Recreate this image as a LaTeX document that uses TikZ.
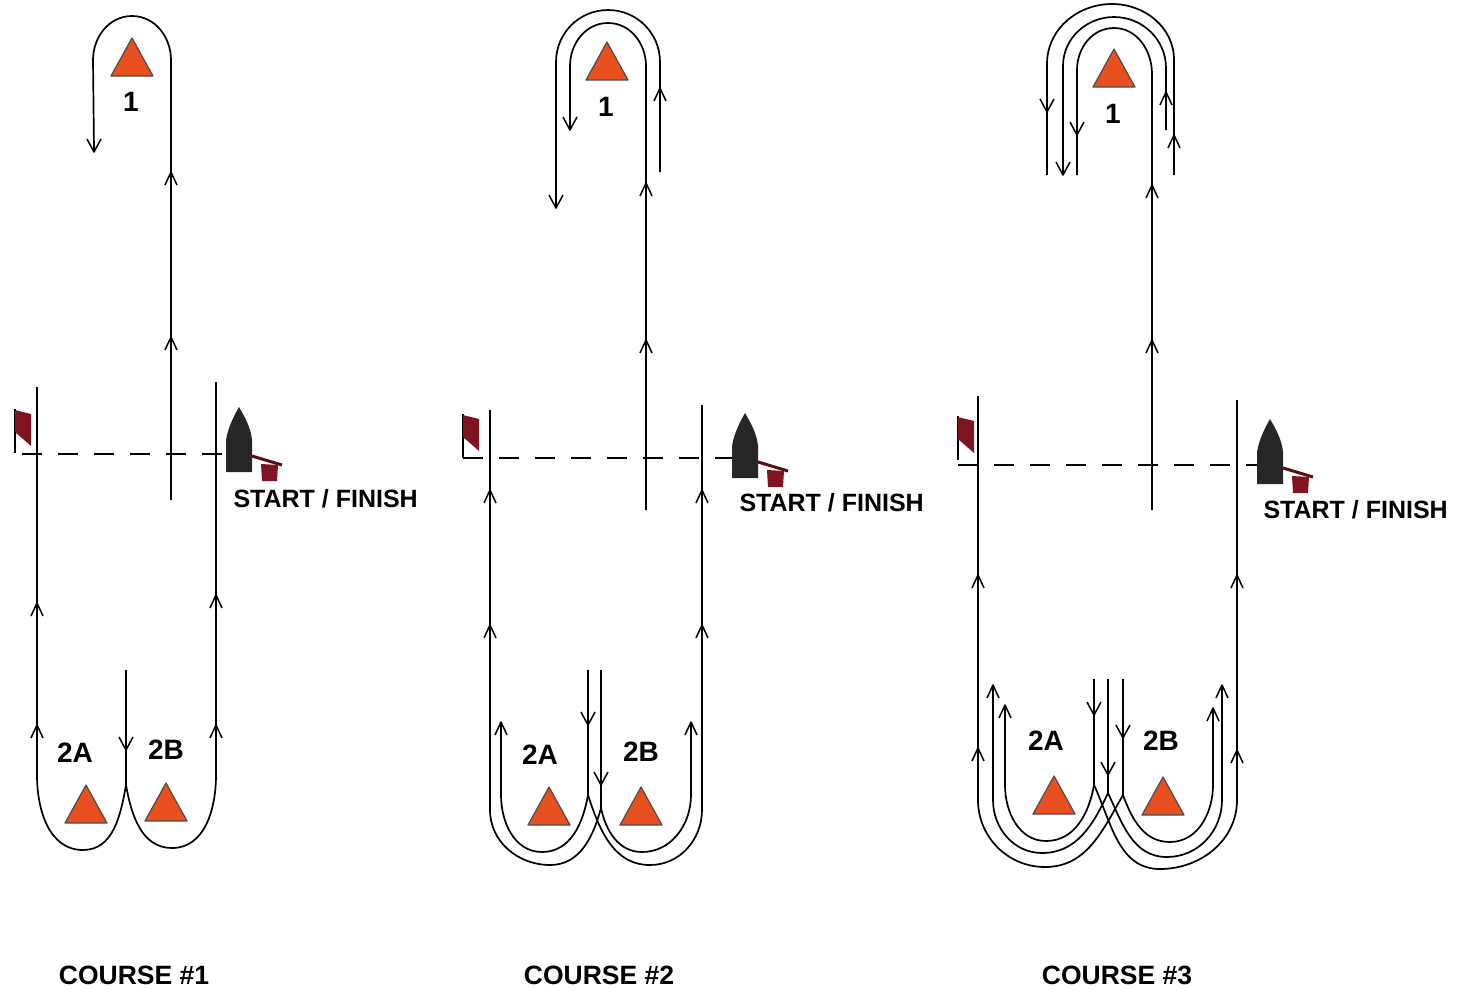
\documentclass[tikz,border=0pt]{standalone}
\usepackage{fontspec}
\setmainfont{Liberation Sans}
\definecolor{markorange}{HTML}{E8501F}
\definecolor{flagred}{HTML}{7F1420}
\definecolor{boatblack}{HTML}{262626}
\tikzset{
    course/.style = {line width=1.7pt,black},
    startline/.style = {line width=1.5pt,dash pattern=on 20pt off 16pt},
    barb/.style = {line width=1.5pt,line join=round},
    marklabel/.style = {font=\bfseries\fontsize{28}{28}\selectfont},
    linelabel/.style = {font=\bfseries\fontsize{25}{26}\selectfont,anchor=west},
    title/.style = {font=\bfseries\fontsize{26.5}{27}\selectfont},
    tipup/.pic = {\draw[barb] (-6,13) -- (0,0) -- (6,13);},
    tipdown/.pic = {\draw[barb] (-7,-13) -- (0,0) -- (7,-13);},
    % origin of the mark is the middle of its base
    roundmark/.pic = {\filldraw[markorange,draw=black!70,line width=1.2pt,line join=round] (-21,0) -- (0,-38) -- (21,0) -- cycle;},
    % origin of the flag is the foot of its pole
    startflag/.pic = {
        \draw[line width=1.5pt] (0,0) -- (0,-44);
        \fill[flagred] (0,-43) -- (16,-39) -- (16,-7) -- (0,-21) -- cycle;
    },
    % origin of the boat is the left corner of its stern
    startboat/.pic = {
        \fill[boatblack] (0,0) -- (0,-32) .. controls (2,-45) and (9,-58) .. (13,-65)
            .. controls (17,-58) and (25,-45) .. (26,-32) -- (26,0) -- cycle;
        \draw[flagred!70!black,line width=3pt] (26,-16) -- (56,-7);
        \fill[flagred] (35,-8) -- (52,-7) -- (51,9) -- (36,9) -- cycle;
    },
}
\begin{document}
\begin{tikzpicture}[x=1pt,y=-1pt]
    \useasboundingbox (0,0) rectangle (1462,989);

    % COURSE 1
    \draw[course] (37,387) -- (37,775) to[out=-90,in=180] (83,850) to[out=0,in=-100] (126,785) -- (126,670);
    \draw[course] (126,785) to[out=-80,in=180] (172,848) to[out=0,in=-90] (216,775) -- (216,382);
    \draw[course] (171,500) -- (171,60) to[out=90,in=0] (132,16) to[out=180,in=90] (93,60) -- (94,150);
    \draw[startline] (22,454) -- (225,454);
    \pic at (15,453) {startflag};
    \pic at (226,472) {startboat};
    \pic at (132,76) {roundmark};
    \pic at (86,823) {roundmark};
    \pic at (166,821) {roundmark};
    \foreach \x/\y in {171/172, 171/337, 37/603, 37/725, 216/595, 216/725}
        \pic at (\x,\y) {tipup};
    \foreach \x/\y in {126/750, 94/152}
        \pic at (\x,\y) {tipdown};
    \node[marklabel] (top1) at (131,102) {1};
    \node[marklabel] (a1) at (75,753) {2A};
    \node[marklabel] (b1) at (166,750) {2B};
    \node[linelabel] (line1) at (230,499) {START / FINISH};
    \node[title] (title1) at (134,975) {COURSE \#1};

    % COURSE 2
    \draw[course] (490,410) -- (490,810) to[out=-90,in=180] (550,865) to[out=0,in=-105] (601,808) -- (601,670);
    \draw[course] (501,722) -- (501,795) to[out=-90,in=180] (542,852) to[out=0,in=-100] (588,795) -- (588,670);
    \draw[course] (588,795) to[out=-72,in=180] (650,865) to[out=0,in=-90] (702,810) -- (702,405);
    \draw[course] (601,808) to[out=-78,in=180] (642,852) to[out=0,in=-90] (691,795) -- (691,722);
    \draw[course] (646,510) -- (646,66) to[out=90,in=0] (608,23) to[out=180,in=90] (570,66) -- (570,130);
    \draw[course] (660,172) -- (660,62) to[out=90,in=0] (608,10) to[out=180,in=90] (556,62) -- (556,208);
    \draw[startline] (463,458) -- (732,458);
    \pic at (463,458) {startflag};
    \pic at (732,478) {startboat};
    \pic at (607,80) {roundmark};
    \pic at (549,825) {roundmark};
    \pic at (641,825) {roundmark};
    \foreach \x/\y in {646/183, 646/340, 660/88, 490/490, 490/625, 702/490, 702/625, 501/722, 691/722}
        \pic at (\x,\y) {tipup};
    \foreach \x/\y in {570/130, 556/208, 588/725, 601/785}
        \pic at (\x,\y) {tipdown};
    \node[marklabel] (top2) at (606,107) {1};
    \node[marklabel] (a2) at (540,755) {2A};
    \node[marklabel] (b2) at (641,752) {2B};
    \node[linelabel] (line2) at (736,503) {START / FINISH};
    \node[title] (title2) at (599,975) {COURSE \#2};

    % COURSE 3
    \draw[course] (978,396) -- (978,800) to[out=-90,in=180] (1045,867) to[out=0,in=-120] (1123,795) -- (1123,679);
    \draw[course] (993,685) -- (993,800) to[out=-90,in=180] (1042,853) to[out=0,in=-115] (1108,793) -- (1108,679);
    \draw[course] (1005,705) -- (1005,785) to[out=-90,in=180] (1046,841) to[out=0,in=-100] (1094,785) -- (1094,679);
    \draw[course] (1094,785) to[out=-65,in=180] (1160,869) to[out=0,in=-90] (1237,800) -- (1237,400);
    \draw[course] (1108,793) to[out=-65,in=180] (1167,857) to[out=0,in=-90] (1222,800) -- (1222,685);
    \draw[course] (1123,795) to[out=-70,in=180] (1170,842) to[out=0,in=-90] (1213,785) -- (1213,708);
    \draw[course] (1152,510) -- (1152,74) to[out=90,in=0] (1114,28) to[out=180,in=90] (1077,70) -- (1077,175);
    \draw[course] (1166,130) -- (1166,68) to[out=90,in=0] (1114,17) to[out=180,in=90] (1063,66) -- (1063,175);
    \draw[course] (1174,175) -- (1174,60) to[out=90,in=0] (1112,4) to[out=180,in=90] (1047,64) -- (1047,175);
    \draw[startline] (958,465) -- (1258,465);
    \pic at (958,460) {startflag};
    \pic at (1257,484) {startboat};
    \pic at (1114,87) {roundmark};
    \pic at (1054,814) {roundmark};
    \pic at (1163,815) {roundmark};
    \foreach \x/\y in {1152/185, 1152/340, 1166/92, 1174/135, 978/575, 978/748, 1237/575, 1237/750, 993/685, 1005/705, 1222/685, 1213/708}
        \pic at (\x,\y) {tipup};
    \foreach \x/\y in {1047/112, 1063/175, 1077/135, 1094/715, 1123/738, 1108/775}
        \pic at (\x,\y) {tipdown};
    \node[marklabel] (top3) at (1113,114) {1};
    \node[marklabel] (a3) at (1046,741) {2A};
    \node[marklabel] (b3) at (1161,741) {2B};
    \node[linelabel] (line3) at (1260,510) {START / FINISH};
    \node[title] (title3) at (1117,975) {COURSE \#3};
\end{tikzpicture}
\end{document}
